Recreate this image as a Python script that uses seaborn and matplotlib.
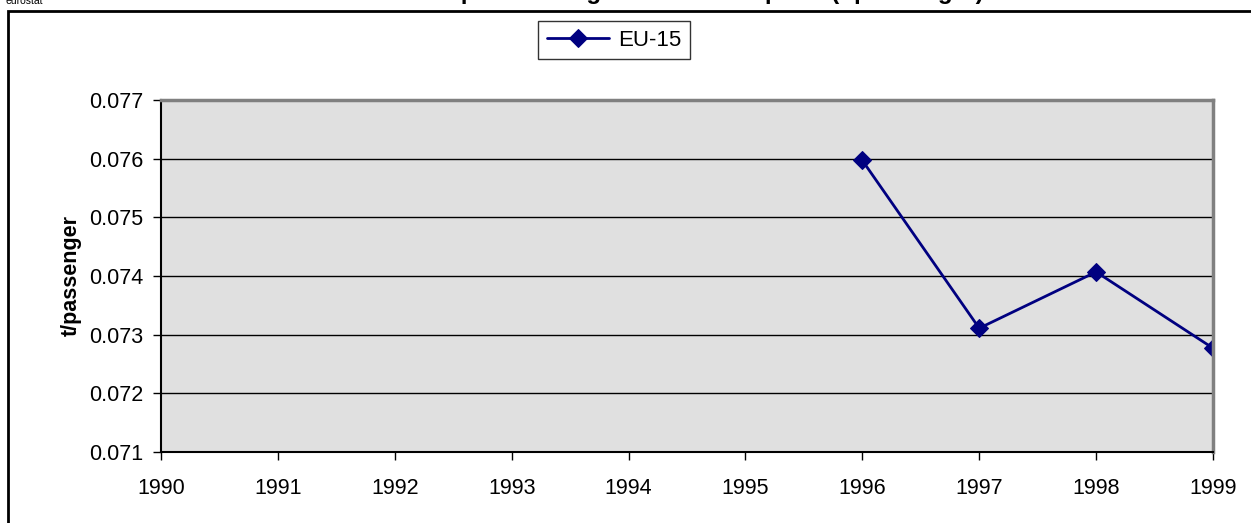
import matplotlib
matplotlib.use('Agg')
import matplotlib.pyplot as plt
import matplotlib.patches as patches
import seaborn as sns
import pandas as pd

# values
years = [1996, 1997, 1998, 1999]
fuel_per_passenger = [0.07597, 0.07311, 0.07407, 0.07277]
series_name = 'EU-15'
year_ticks = list(range(1990, 2000))
y_ticks = [0.071, 0.072, 0.073, 0.074, 0.075, 0.076, 0.077]

df = pd.DataFrame({'year': years, 'value': fuel_per_passenger, 'series': series_name})

sns.set_style('white')
plt.rcParams['font.family'] = ['Liberation Sans', 'DejaVu Sans']
plt.rcParams['text.color'] = 'black'
plt.rcParams['xtick.color'] = 'black'
plt.rcParams['ytick.color'] = 'black'
plt.rcParams['axes.labelcolor'] = 'black'

W, H = 1251, 523
fig = plt.figure(figsize=(W / 100, H / 100), dpi=100)
ax = fig.add_axes([161 / W, 1 - 452 / H, (1213 - 161) / W, (452 - 100) / H])
ax.set_facecolor('#e0e0e0')

sns.lineplot(data=df, x='year', y='value', hue='series', palette=['#000080'],
             marker='D', markersize=9.5, linewidth=2, markeredgecolor='#000080',
             ax=ax, legend=True)

ax.set_xlim(1990, 1999)
ax.set_ylim(0.071, 0.077)
ax.set_xticks(year_ticks)
ax.set_yticks(y_ticks)
ax.set_yticklabels([f'{v:.3f}' for v in y_ticks])
ax.yaxis.grid(True, color='black', linewidth=1)
ax.xaxis.grid(False)
ax.tick_params(axis='both', direction='out', length=6, width=1, color='black',
               labelsize=15.5, left=True, bottom=True)
ax.tick_params(axis='y', pad=7)
ax.tick_params(axis='x', pad=13)
ax.set_xlabel('')
ax.set_ylabel('t/passenger', fontsize=15.5, fontweight='bold', labelpad=5)

for side in ['left', 'bottom']:
    ax.spines[side].set_color('black')
    ax.spines[side].set_linewidth(1.5)
for side in ['top', 'right']:
    ax.spines[side].set_color('#808080')
    ax.spines[side].set_linewidth(2.5)

handles, labels = ax.get_legend_handles_labels()
leg = ax.legend(handles, labels, loc='center', bbox_to_anchor=(614 / W, 1 - 40 / H),
                bbox_transform=fig.transFigure, fontsize=16, frameon=True,
                fancybox=False, handlelength=2.8, borderpad=0.4, handletextpad=0.4)
leg.get_frame().set_edgecolor('black')
leg.get_frame().set_linewidth(1)

# outer chart border
fig.patches.append(patches.Rectangle((8 / W, -0.05), 1.1, 1 - 11 / H + 0.05,
                                     transform=fig.transFigure, fill=False,
                                     edgecolor='black', linewidth=2))

# title and source tag, cropped at the top edge as in the reference
fig.text(672 / W, 1 + 1 / H, 'Air transport: average fuel consumption (t/passenger)',
         ha='center', va='baseline', fontsize=17.5, fontweight='bold')
fig.text(5 / W, 1 - 4 / H, 'eurostat', ha='left', va='baseline', fontsize=7.5)

fig.savefig('out.png', dpi=100)
